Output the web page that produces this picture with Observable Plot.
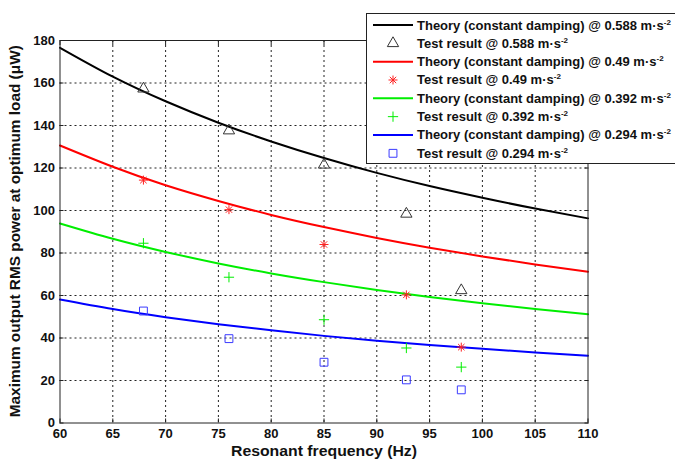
<!DOCTYPE html>
<html><head><meta charset="utf-8">
<script src="https://cdn.jsdelivr.net/npm/d3@7"></script>
<script src="https://cdn.jsdelivr.net/npm/@observablehq/plot@0.6"></script>
<style>
body{margin:0;background:#fff;overflow:hidden}
#wrap{position:relative;width:675px;height:464px;overflow:hidden;font-family:"Liberation Sans",Arial,sans-serif}
#legend{position:absolute;left:366px;top:13px}
#ylab{position:absolute;left:0;top:0}
</style></head><body><div id="wrap"></div>
<script>
// ---- data ----
const freqs = [60, 65, 70, 75, 80, 85, 90, 95, 100, 105, 110];
const theory0588 = [176.6, 163.0, 151.4, 141.3, 132.5, 124.7, 117.7, 111.5, 106.0, 100.9, 96.3];
const theory049  = [130.6, 120.6, 111.9, 104.5, 97.9, 92.2, 87.1, 82.5, 78.4, 74.6, 71.2];
const theory0392 = [93.9, 86.7, 80.5, 75.1, 70.4, 66.3, 62.6, 59.3, 56.3, 53.7, 51.2];
const theory0294 = [58.1, 53.6, 49.8, 46.5, 43.6, 41.0, 38.7, 36.7, 34.9, 33.2, 31.7];

const testFreqs = [67.9, 76.0, 85.0, 92.8, 98.0];
const test0588 = [157.3, 137.6, 121.5, 98.4, 62.4];
const test049  = [114.3, 100.4, 84.0, 60.3, 35.7];
const test0392 = [84.6, 68.6, 48.6, 35.3, 26.3];
const test0294 = [52.7, 39.7, 28.6, 20.3, 15.6];

const accelLabels = ["0.588", "0.49", "0.392", "0.294"];
const seriesColors = ["#000000", "#ff0000", "#00ee00", "#0000ff"];
const markerColors = ["#333333", "#ff2020", "#00ee00", "#3a3aff"];

const xTicks = [60, 65, 70, 75, 80, 85, 90, 95, 100, 105, 110];
const yTicks = [0, 20, 40, 60, 80, 100, 120, 140, 160, 180];
const xLabel = "Resonant frequency (Hz)";
const yLabel = "Maximum output RMS power at optimum load (\u03BCW)";

// ---- build tables ----
const theorySets = [theory0588, theory049, theory0392, theory0294];
const testSets = [test0588, test049, test0392, test0294];
const theoryRows = theorySets.map(vals => freqs.map((f, i) => ({f, p: vals[i]})));
const testRows = testSets.map(vals => testFreqs.map((f, i) => ({f, p: vals[i]})));

const gridStyle = {stroke: "#222", strokeDasharray: "2,3", strokeWidth: 1};
const font = {fontSize: 13, fontWeight: "bold", fill: "#111"};

const marks = [
  Plot.ruleX(xTicks.slice(1, -1), gridStyle),
  Plot.ruleY(yTicks.slice(1, -1), gridStyle),
  Plot.axisX({anchor: "bottom", ticks: xTicks, tickSize: 0, tickPadding: 6, label: null, ...font}),
  Plot.axisY({anchor: "left", ticks: yTicks, tickSize: 0, tickPadding: 5, label: null, ...font}),
  Plot.axisX({anchor: "bottom", ticks: xTicks, tickSize: -4, tickFormat: () => "", label: null, stroke: "#222"}),
  Plot.axisX({anchor: "top", ticks: xTicks, tickSize: -4, tickFormat: () => "", label: null, stroke: "#222"}),
  Plot.axisY({anchor: "left", ticks: yTicks, tickSize: -4, tickFormat: () => "", label: null, stroke: "#222"}),
  Plot.axisY({anchor: "right", ticks: yTicks, tickSize: -4, tickFormat: () => "", label: null, stroke: "#222"})
];

theoryRows.forEach((rows, k) => {
  marks.push(Plot.line(rows, {x: "f", y: "p", stroke: seriesColors[k], strokeWidth: 2, curve: "natural"}));
});

// markers
marks.push(Plot.dot(testRows[0], {x: "f", y: "p", symbol: "triangle2", r: 5.4, stroke: markerColors[0], strokeWidth: 1}));
marks.push(Plot.dot(testRows[1], {x: "f", y: "p", symbol: "plus", r: 3.0, stroke: markerColors[1], strokeWidth: 1}));
marks.push(Plot.dot(testRows[1], {x: "f", y: "p", symbol: "times", r: 3.0, stroke: markerColors[1], strokeWidth: 1}));
marks.push(Plot.dot(testRows[2], {x: "f", y: "p", symbol: "plus", r: 3.4, stroke: markerColors[2], strokeWidth: 1}));
marks.push(Plot.dot(testRows[3], {x: "f", y: "p", symbol: "square2", r: 5.0, stroke: markerColors[3], strokeWidth: 1}));

marks.push(Plot.frame({stroke: "#222", strokeWidth: 1}));
marks.push(Plot.text([xLabel], {text: d => d, frameAnchor: "bottom", dy: 33, fontSize: 14, fontWeight: "bold", fill: "#111"}));

const chart = Plot.plot({
  width: 675,
  height: 464,
  marginLeft: 59.5,
  marginRight: 87.5,
  marginTop: 40,
  marginBottom: 41.5,
  style: {fontFamily: "'Liberation Sans', Arial, sans-serif", background: "#fff", overflow: "visible"},
  x: {domain: [60, 110]},
  y: {domain: [0, 180]},
  marks
});
const wrap = document.getElementById("wrap");
wrap.appendChild(chart);

// fit the x title to its length in the reference
chart.querySelectorAll("text").forEach(t => {
  if (t.textContent.includes("Resonant")) { t.setAttribute("textLength", 186); t.setAttribute("lengthAdjust", "spacingAndGlyphs"); }
});

// y title, rotated, fitted to its length in the reference
const ylab = d3.select(wrap).append("svg").attr("id", "ylab").attr("width", 40).attr("height", 464);
ylab.append("text")
  .attr("transform", "translate(15,231.25) rotate(-90)")
  .attr("text-anchor", "middle").attr("dominant-baseline", "central")
  .attr("font-family", "'Liberation Sans', Arial, sans-serif")
  .attr("font-size", 14).attr("font-weight", "bold").attr("fill", "#111")
  .attr("textLength", 372).attr("lengthAdjust", "spacingAndGlyphs")
  .text(yLabel);

// ---- legend (overlaid, as in the reference) ----
const legW = 330, legH = 151, rowH = 18.33, row0 = 12;
const leg = d3.select(wrap).append("svg").attr("id", "legend")
  .attr("width", legW).attr("height", legH);
leg.append("rect").attr("x", 0.5).attr("y", 0.5).attr("width", legW).attr("height", legH - 1)
  .attr("fill", "#fff").attr("stroke", "#222");
const symOf = {
  triangle2: d3.symbolTriangle2, plus: d3.symbolPlus, times: d3.symbolTimes, square2: d3.symbolSquare2
};
const legendSyms = [[["triangle2", 5.4]], [["plus", 3.0], ["times", 3.0]], [["plus", 3.4]], [["square2", 5.0]]];
accelLabels.forEach((a, k) => {
  const yl = row0 + rowH * (2 * k);
  const ym = row0 + rowH * (2 * k + 1);
  leg.append("line").attr("x1", 7).attr("x2", 47).attr("y1", yl).attr("y2", yl)
    .attr("stroke", seriesColors[k]).attr("stroke-width", 2);
  legendSyms[k].forEach(([s, r]) => {
    leg.append("path").attr("transform", `translate(27,${ym})`)
      .attr("d", d3.symbol(symOf[s], r * r * Math.PI)())
      .attr("fill", "none").attr("stroke", markerColors[k]).attr("stroke-width", 1);
  });
  const texts = [[`Theory (constant damping) @ ${a} m\u00B7s`, yl], [`Test result @ ${a} m\u00B7s`, ym]];
  texts.forEach(([t, y]) => {
    const tx = leg.append("text").attr("x", 51).attr("y", y + 4.5)
      .attr("font-family", "'Liberation Sans', Arial, sans-serif")
      .attr("font-size", 13).attr("font-weight", "bold").attr("fill", "#111");
    tx.append("tspan").text(t);
    tx.append("tspan").attr("font-size", 8).attr("dy", -5).text("-2");
  });
});
</script></body></html>
